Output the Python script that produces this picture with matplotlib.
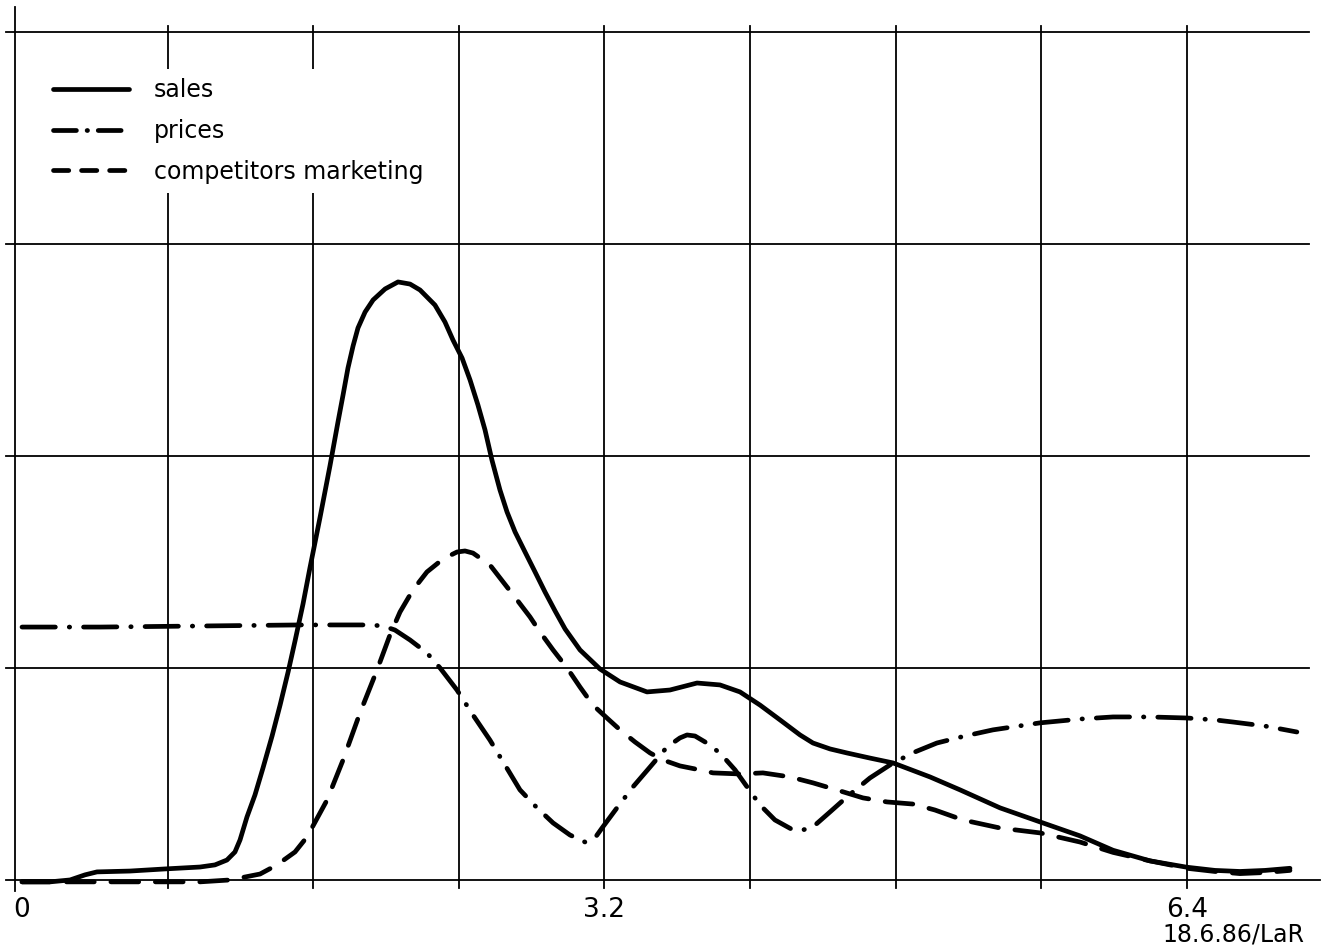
import matplotlib.pyplot as plt
from matplotlib.lines import Line2D

plt.rcParams['lines.scale_dashes'] = False
plt.rcParams['font.family'] = ['DejaVu Sans']

# curves (x in time units, y in grid units)
sales_x = [0.000, 0.154, 0.264, 0.346, 0.412, 0.593, 0.786, 0.978, 1.060, 1.126,
           1.170, 1.198, 1.236, 1.280, 1.324, 1.374, 1.418, 1.462, 1.500, 1.544,
           1.582, 1.637, 1.692, 1.736, 1.764, 1.791, 1.819, 1.846, 1.885, 1.929,
           1.995, 2.066, 2.132, 2.187, 2.269, 2.324, 2.368, 2.418, 2.462, 2.505,
           2.544, 2.582, 2.626, 2.665, 2.709, 2.764, 2.819, 2.874, 2.929, 2.984,
           3.066, 3.176, 3.286, 3.434, 3.560, 3.709, 3.835, 3.945, 4.055, 4.165,
           4.275, 4.346, 4.440, 4.533, 4.659, 4.786, 4.989, 5.154, 5.374, 5.593,
           5.813, 5.995, 6.198, 6.401, 6.555, 6.692, 6.830, 6.967]
sales_y = [-0.009, -0.009, 0.000, 0.024, 0.038, 0.042, 0.052, 0.061, 0.071, 0.094,
           0.132, 0.189, 0.297, 0.401, 0.528, 0.679, 0.825, 0.981, 1.127, 1.302,
           1.472, 1.708, 1.953, 2.160, 2.288, 2.415, 2.519, 2.604, 2.679, 2.736,
           2.788, 2.821, 2.811, 2.783, 2.712, 2.632, 2.547, 2.462, 2.358, 2.241,
           2.123, 1.981, 1.840, 1.736, 1.642, 1.547, 1.453, 1.358, 1.269, 1.184,
           1.085, 0.995, 0.934, 0.887, 0.896, 0.929, 0.920, 0.887, 0.825, 0.755,
           0.684, 0.646, 0.618, 0.599, 0.575, 0.552, 0.486, 0.425, 0.340, 0.274,
           0.208, 0.140, 0.090, 0.060, 0.045, 0.040, 0.045, 0.055]

prices_x = [0.000, 0.429, 0.978, 1.527, 1.912, 1.984, 2.049, 2.132, 2.225, 2.297,
            2.390, 2.478, 2.571, 2.654, 2.736, 2.830, 2.918, 3.011, 3.093, 3.148,
            3.187, 3.269, 3.357, 3.451, 3.544, 3.615, 3.654, 3.698, 3.753, 3.835,
            3.918, 3.984, 4.055, 4.137, 4.236, 4.291, 4.346, 4.440, 4.533, 4.659,
            4.786, 4.907, 5.027, 5.181, 5.335, 5.593, 5.813, 5.995, 6.198, 6.401,
            6.555, 6.654, 6.830, 7.005]
prices_y = [1.193, 1.193, 1.198, 1.203, 1.203, 1.198, 1.179, 1.132, 1.071, 1.000,
            0.896, 0.778, 0.660, 0.542, 0.425, 0.340, 0.269, 0.212, 0.179, 0.198,
            0.245, 0.340, 0.439, 0.533, 0.627, 0.670, 0.684, 0.679, 0.651, 0.599,
            0.519, 0.439, 0.354, 0.283, 0.236, 0.236, 0.250, 0.321, 0.392, 0.481,
            0.552, 0.604, 0.646, 0.679, 0.708, 0.741, 0.759, 0.769, 0.769, 0.764,
            0.755, 0.745, 0.726, 0.698]

comp_x = [0.000, 0.429, 0.703, 0.978, 1.143, 1.308, 1.401, 1.500, 1.566, 1.676,
          1.764, 1.857, 1.951, 2.022, 2.077, 2.148, 2.225, 2.313, 2.390, 2.434,
          2.478, 2.571, 2.626, 2.720, 2.791, 2.846, 2.918, 2.995, 3.066, 3.137,
          3.214, 3.286, 3.368, 3.451, 3.522, 3.615, 3.725, 3.797, 3.945, 4.071,
          4.220, 4.346, 4.495, 4.621, 4.753, 4.896, 5.016, 5.170, 5.374, 5.593,
          5.813, 5.995, 6.198, 6.401, 6.555, 6.692, 6.830, 6.967]
comp_y = [-0.009, -0.009, -0.009, -0.009, 0.000, 0.028, 0.071, 0.132, 0.203, 0.377,
          0.566, 0.788, 0.991, 1.156, 1.264, 1.368, 1.453, 1.514, 1.547, 1.552,
          1.542, 1.486, 1.425, 1.321, 1.241, 1.170, 1.085, 1.000, 0.910, 0.825,
          0.764, 0.708, 0.651, 0.599, 0.566, 0.538, 0.519, 0.505, 0.500, 0.505,
          0.486, 0.458, 0.420, 0.387, 0.368, 0.358, 0.330, 0.283, 0.245, 0.222,
          0.179, 0.130, 0.090, 0.055, 0.040, 0.030, 0.035, 0.045]

grid_x = [0.8, 1.6, 2.4, 3.2, 4.0, 4.8, 5.6, 6.4]
grid_y = [1, 2, 3, 4]
tick_pos = [0, 3.2, 6.4]
tick_labels = ['0', '3.2', '6.4']
stamp = '18.6.86/LaR'

fig = plt.figure(figsize=(13.3, 9.48), dpi=100)
ax = fig.add_axes([0, 0, 1, 1])
ax.set_xlim(-0.121, 7.187)
ax.set_ylim(-0.321, 4.151)
ax.axis('off')

# grid drawn like the plotter: heavy ruled lines with short ticks past the axes
gkw = dict(color='black', lw=1.3, zorder=1)
ax.plot([-0.09, 7.13], [0, 0], **gkw)
for gy in grid_y:
    ax.plot([-0.09, 7.07], [gy, gy], **gkw)
ax.plot([-0.04, -0.04], [-0.05, 4.12], **gkw)
for gx in grid_x:
    ax.plot([gx, gx], [-0.04, 4.03], **gkw)

lw = 3.4
ax.plot(sales_x, sales_y, color='black', lw=lw, solid_joinstyle='round',
        solid_capstyle='round', zorder=3)
ax.plot(prices_x, prices_y, color='black', lw=lw, dashes=(24, 10, 0.3, 10),
        dash_capstyle='round', dash_joinstyle='round', zorder=3)
ax.plot(comp_x, comp_y, color='black', lw=lw, dashes=(20, 12),
        dash_capstyle='round', dash_joinstyle='round', zorder=3)

handles = [
    Line2D([], [], color='black', lw=lw, solid_capstyle='round'),
    Line2D([], [], color='black', lw=lw, dashes=(16.5, 7.7, 0.3, 7.7),
           dash_capstyle='round'),
    Line2D([], [], color='black', lw=lw, dashes=(11, 9.2), dash_capstyle='round'),
]
leg = ax.legend(handles, ['sales', 'prices', 'competitors marketing'],
                loc='upper left', bbox_to_anchor=(44 / 1330, 1 - 69 / 948),
                bbox_transform=fig.transFigure, fontsize=17, frameon=True,
                facecolor='white', edgecolor='none', framealpha=1, fancybox=False,
                handlelength=3.2, handletextpad=1.06, labelspacing=0.7,
                borderpad=0.4, borderaxespad=0)
leg.set_zorder(5)

for pos, lab in zip(tick_pos, tick_labels):
    ax.text(pos, -0.142, lab, ha='center', va='center', fontsize=19)

ax.text(6.654, -0.259, stamp, ha='center', va='center', fontsize=17)

fig.savefig('out.png', dpi=100)
